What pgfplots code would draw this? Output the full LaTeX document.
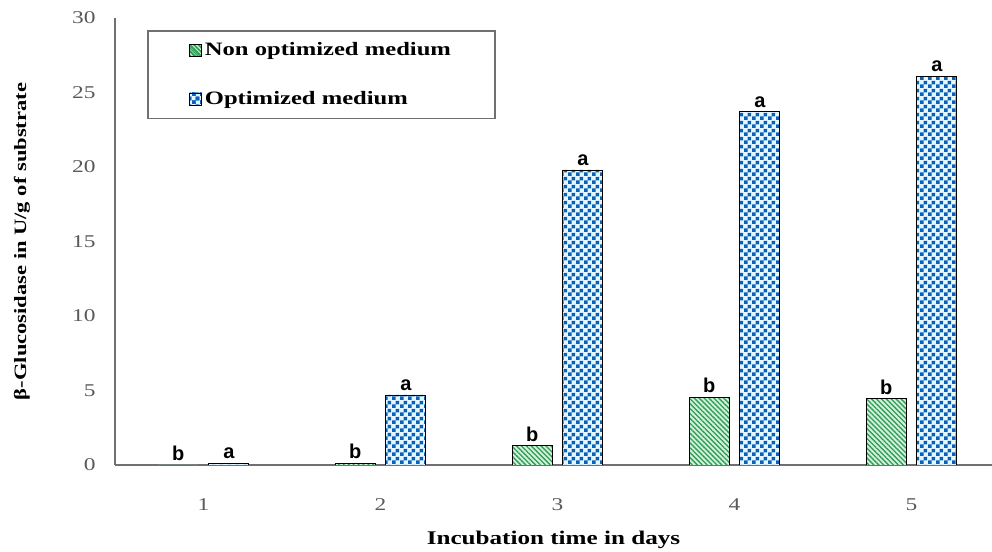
\documentclass[border=0pt]{standalone}
\usepackage{fontspec}
\setmainfont{Liberation Serif}[FakeStretch=1.3]
\setsansfont{Liberation Sans}
\usepackage{pgfplots}
\pgfplotsset{compat=1.18}
\usetikzlibrary{patterns.meta}
\definecolor{stripeG}{HTML}{2E9E55}
\definecolor{stripeBG}{HTML}{D4F0DC}
\definecolor{checkB}{HTML}{0A62B8}
\definecolor{checkBG}{HTML}{E6F6FF}
\definecolor{tickgray}{HTML}{595959}
\definecolor{axgray}{HTML}{707070}
\tikzdeclarepattern{
  name=checker,
  type=uncolored,
  bottom left={(0pt,0pt)},
  top right={(6pt,6pt)},
  tile size={(6pt,6pt)},
  code={
    \fill (0pt,0pt) rectangle (3pt,3pt);
    \fill (3pt,3pt) rectangle (6pt,6pt);
  }
}
\begin{document}
\begin{tikzpicture}
\useasboundingbox (0,0) rectangle (744pt,414pt);
\begin{axis}[
  at={(86.25pt,65.25pt)}, anchor=south west,
  scale only axis, width=657.75pt, height=335.25pt,
  xmin=0.5, xmax=5.455, ymin=0, ymax=30,
  xtick={1,2,3,4,5}, ytick={0,5,...,30},
  axis x line=bottom, axis y line=left,
  axis line style={-, draw=axgray, line width=1.2pt},
  major tick length=0pt,
  /pgf/number format/assume math mode=true,
  ticklabel style={font=\fontsize{13.5}{16}\selectfont, text=tickgray},
  xticklabel style={yshift=-22pt},
  yticklabel style={xshift=-11pt},
  xlabel={\textbf{Incubation time in days}},
  ylabel={\textbf{β-Glucosidase in U/g of substrate}},
  xlabel style={font=\fontsize{14.5}{17}\selectfont, at={(axis description cs:0.5,-0.168)}, anchor=center},
  ylabel style={font=\fontsize{13}{16}\selectfont, at={(axis description cs:-0.106,0.5)}, anchor=center},
  legend style={at={(axis description cs:0.0365,0.973)}, anchor=north west,
    draw=axgray, line width=1.2pt, font=\fontsize{14.2}{17}\selectfont\bfseries,
    inner xsep=31pt, inner ysep=7pt, row sep=21pt},
  legend cell align=left,
  nodes near coords style={font=\sffamily\bfseries\fontsize{15}{18}\selectfont, text=black, anchor=south, inner sep=3pt},
]
\addplot[ybar, bar width=30pt, bar shift=-19pt, draw=black, line width=0.6pt,
  fill=stripeBG, postaction={pattern={Lines[angle=-45,distance=2.6pt,line width=1pt]}, pattern color=stripeG},
  nodes near coords={b}, every node near coord/.append style={xshift=-19pt},
  legend image code/.code={\draw[line width=0.5pt, draw=black, fill=stripeBG, postaction={pattern={Lines[angle=-45,distance=2pt,line width=0.8pt]}, pattern color=stripeG}] (0pt,-4.5pt) rectangle (9pt,4.5pt);}]
  coordinates {(1,0) (2,0.1) (3,1.3) (4,4.55) (5,4.45)};
\addlegendentry{Non optimized medium}
\addplot[ybar, bar width=30pt, bar shift=19pt, draw=black, line width=0.6pt,
  fill=checkBG, postaction={pattern=checker, pattern color=checkB},
  nodes near coords={a}, every node near coord/.append style={xshift=19pt},
  legend image code/.code={\draw[line width=0.5pt, draw=black, fill=checkBG, postaction={pattern=checker, pattern color=checkB}] (0pt,-4.5pt) rectangle (9pt,4.5pt);}]
  coordinates {(1,0.1) (2,4.7) (3,19.8) (4,23.7) (5,26.1)};
\addlegendentry{Optimized medium}
\end{axis}
\end{tikzpicture}
\end{document}
